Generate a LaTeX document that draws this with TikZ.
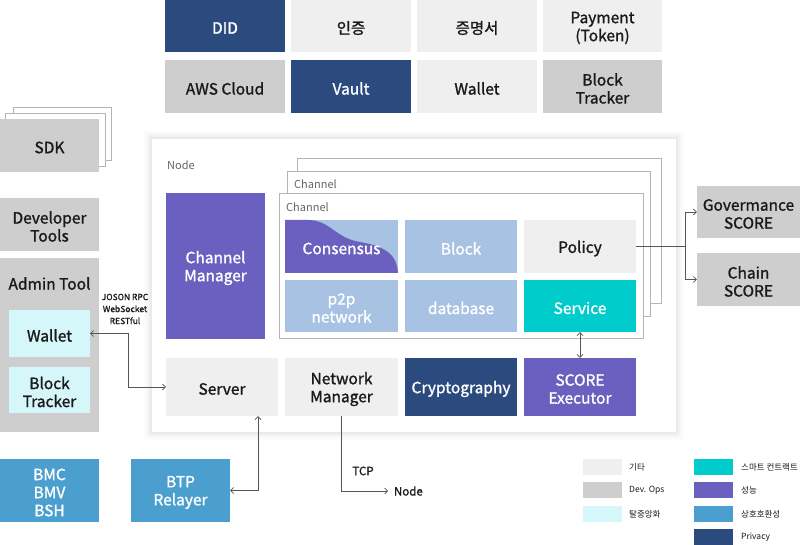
\documentclass[tikz,border=0pt]{standalone}
\usepackage{fontspec}
\setmainfont{Noto Sans CJK KR}
\newfontfamily\medfont{Noto Sans CJK KR}[FakeBold=1.3]
\usetikzlibrary{arrows.meta}
\definecolor{etc}{HTML}{EFEFEF}
\definecolor{devops}{HTML}{CECECE}
\definecolor{decen}{HTML}{D6F7F9}
\definecolor{smart}{HTML}{00CCCC}
\definecolor{perf}{HTML}{6B5FBF}
\definecolor{interop}{HTML}{4A9FCF}
\definecolor{privacy}{HTML}{2B4A7D}
\definecolor{chcell}{HTML}{A7C2E2}
\definecolor{txtdark}{HTML}{1A1A1A}
\definecolor{linec}{HTML}{555555}
\definecolor{framec}{HTML}{B5B5B5}
\definecolor{labelc}{HTML}{666666}
% #1 text colour, #2 name, #3..#6 x1 y1 x2 y2, #7 fill, #8 text
\newcommand{\mybox}[8][txtdark]{%
  \node[box,fill=#7,minimum width={#5-#3},minimum height={#6-#4}] (#2) at ({(#3+#5)/2},{(#4+#6)/2}) {};%
  \node[boxtxt,text=#1] (#2-t) at ([yshift=-2pt]#2.center) {#8};}
\tikzset{
  box/.style={inner sep=0pt, draw=none},
  boxtxt/.style={inner sep=0pt, align=center, font=\medfont\fontsize{15.5}{18}\selectfont},
  arr/.style={draw=linec, line width=0.7pt, -{Straight Barb[length=3pt,width=6pt]}},
  darr/.style={draw=linec, line width=0.7pt, {Straight Barb[length=3pt,width=6pt]}-{Straight Barb[length=3pt,width=6pt]}},
  plain/.style={draw=linec, line width=0.7pt},
  frm/.style={draw=framec, line width=0.8pt, fill=white},
  small/.style={inner sep=0pt, font=\fontsize{11}{13}\selectfont, text=labelc, anchor=west},
  leg/.style={inner sep=0pt, font=\fontsize{8.5}{10}\selectfont, text=txtdark, anchor=west}
}
\begin{document}
\begin{tikzpicture}[x=1pt,y=-1pt]
\useasboundingbox (0,0) rectangle (800,545);
\fill[white] (0,0) rectangle (800,545);
% top grid
\mybox[white]{did}{165}{0}{285}{52}{privacy}{DID}
\mybox{auth}{291}{0}{411}{52}{etc}{인증}
\mybox{cert}{417}{0}{537}{52}{etc}{증명서}
\mybox{pay}{543}{0}{662}{52}{etc}{Payment\\(Token)}
\mybox{aws}{165}{60}{285}{113}{devops}{AWS Cloud}
\mybox[white]{vault}{291}{60}{411}{113}{privacy}{Vault}
\mybox{wallettop}{417}{60}{537}{113}{etc}{Wallet}
\mybox{bttop}{543}{60}{662}{113}{devops}{Block\\Tracker}
% SDK stack
\draw[frm] (13,107) rectangle (111,160);
\draw[frm] (5,113) rectangle (105,166);
\mybox{sdk}{0}{119}{99}{172}{devops}{SDK}
\mybox{devtools}{0}{198}{99}{251}{devops}{Developer\\Tools}
\fill[devops] (0,258) rectangle (99,432);
\node[boxtxt,text=txtdark] (admin) at (49.5,283.5) {Admin Tool};
\mybox{wallet}{9}{310}{90}{357}{decen}{Wallet}
\mybox{btl}{9}{367}{90}{413}{decen}{Block\\Tracker}
\node[inner sep=0pt, align=center, font=\medfont\fontsize{8.5}{12}\selectfont, text=txtdark] (proto) at (125,309) {JOSON RPC\\WebSocket\\RESTful};
% Node box with soft shadow
\foreach \i/\o in {8/0.012,6/0.016,4/0.022,2/0.03}
  \fill[black,opacity=\o] (152-\i,139-\i) rectangle (676+\i,432+\i);
\fill[white] (152,139) rectangle (676,432);
\node[small] (nodelbl) at (167,165) {Node};
% channel frames
\draw[frm] (297,158) rectangle (661.5,303);
\draw[frm] (287,171) rectangle (650,316);
\node[small] (ch2) at (294,184) {Channel};
\draw[frm] (279.5,193) rectangle (643,338);
\node[small] (ch1) at (286,207) {Channel};
\mybox[white]{cm}{166}{193}{265}{339}{perf}{Channel\\Manager}
% channel cells
\fill[chcell] (285,220) rectangle (398,273);
\fill[perf] (285,220) -- (308,220) .. controls (330,220) and (335,238) .. (360,242) .. controls (390,247) and (397,258) .. (398,273) -- (285,273) -- cycle;
\mybox[white]{cons}{285}{220}{398}{273}{none}{Consensus}
\mybox[white]{block}{405}{220}{517}{273}{chcell}{Block}
\mybox{policy}{524}{220}{636}{273}{etc}{Policy}
\mybox[white]{p2p}{285}{280}{398}{332}{chcell}{p2p\\network}
\mybox[white]{db}{405}{280}{517}{332}{chcell}{database}
\mybox[white]{service}{524}{280}{636}{332}{smart}{Service}
% bottom row of node
\mybox{server}{166}{358}{278}{416}{etc}{Server}
\mybox{nm}{285}{358}{398}{416}{etc}{Network\\Manager}
\mybox[white]{crypto}{405}{358}{517}{416}{privacy}{Cryptography}
\mybox[white]{score}{524}{358}{636}{416}{perf}{SCORE\\Executor}
% right boxes
\mybox{gov}{697}{186}{800}{238}{devops}{Govermance\\SCORE}
\mybox{chain}{697}{253}{800}{306}{devops}{Chain\\SCORE}
% bottom-left boxes
\mybox[white]{bmc}{0}{459}{99}{522}{interop}{BMC\\BMV\\BSH}
\mybox[white]{btp}{131}{459}{230}{522}{interop}{BTP\\Relayer}
% TCP / Node labels
\node[inner sep=0pt, outer sep=6pt, anchor=west, font=\medfont\fontsize{11.5}{13}\selectfont, text=txtdark] (tcpnode) at (388,491) {Node};
\node[inner sep=0pt, font=\medfont\fontsize{11.5}{13}\selectfont, text=txtdark] (tcp) at (363,471) {TCP};
% connectors
\coordinate (jn) at (685,246.5);
\draw[plain] (policy.east) -- (jn);
\draw[arr] (jn) |- (gov.west);
\draw[arr] (jn) |- (chain.west);
\draw[darr] (service.south) -- (score.north);
\draw[darr] (server.west) -- ++(-37,0) |- (wallet.east);
\draw[darr] ([xshift=36pt]server.south) |- (btp.east);
\draw[arr] (nm.south) |- (tcpnode.west);
% legend
\fill[etc] (583,459) rectangle (622,475);
\node[leg] (l1) at (629,467) {기타};
\fill[devops] (583,482) rectangle (622,498);
\node[leg] (l2) at (629,490) {Dev. Ops};
\fill[decen] (583,506) rectangle (622,522);
\node[leg] (l3) at (629,514) {탈중앙화};
\fill[smart] (694,459) rectangle (733,475);
\node[leg] (l4) at (741,467) {스마트 컨트랙트};
\fill[perf] (694,482) rectangle (733,498);
\node[leg] (l5) at (741,490) {성능};
\fill[interop] (694,506) rectangle (733,522);
\node[leg] (l6) at (741,514) {상호호환성};
\fill[privacy] (694,529) rectangle (733,545);
\node[leg] (l7) at (741,537) {Privacy};
\end{tikzpicture}
\end{document}
